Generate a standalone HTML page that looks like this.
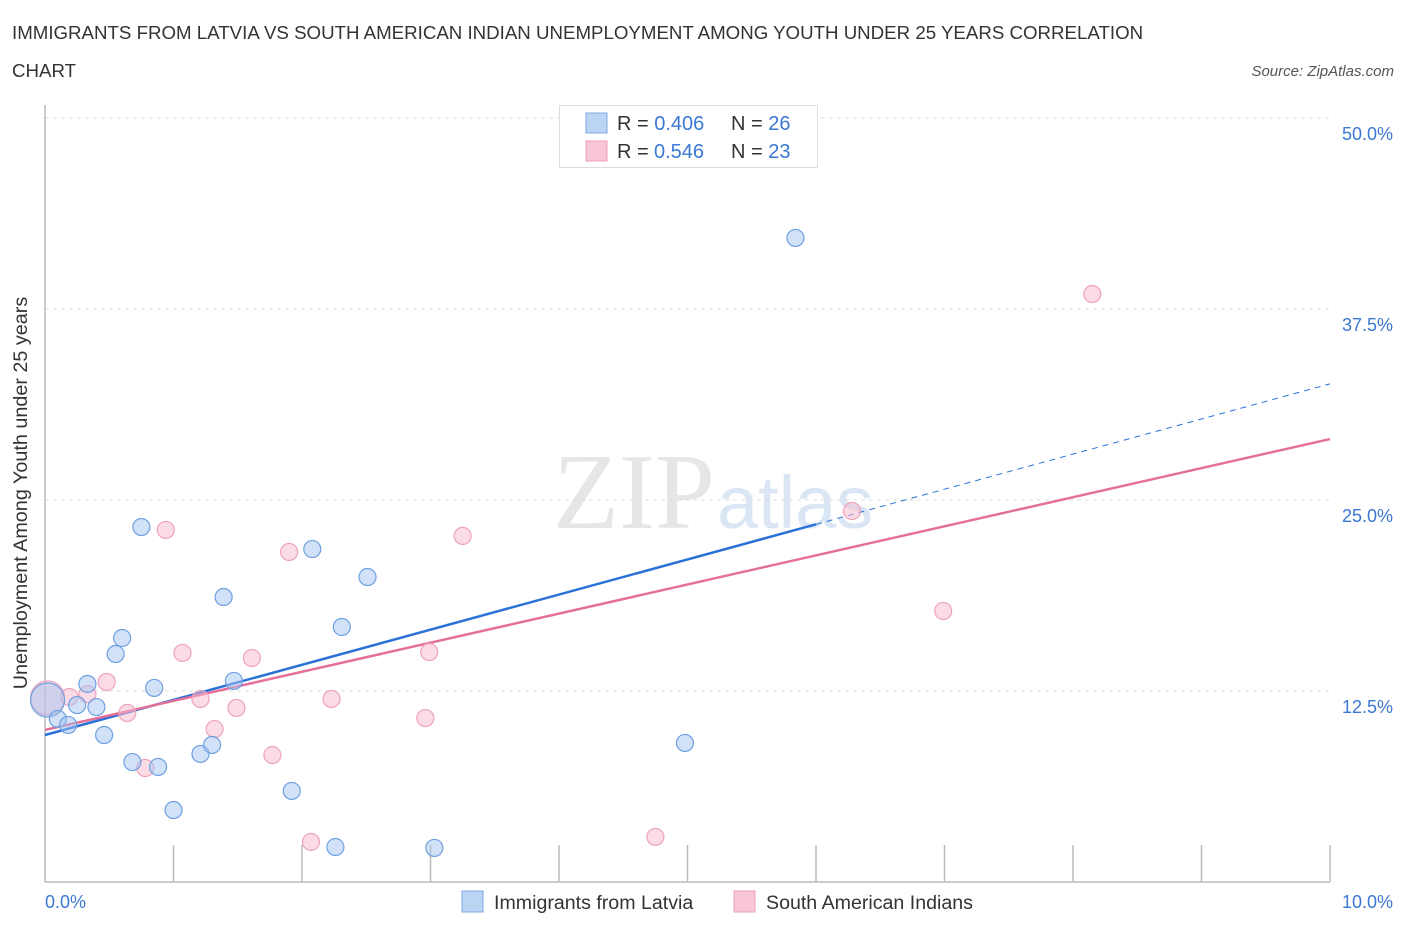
<!DOCTYPE html>
<html><head><meta charset="utf-8"><style>
body{margin:0;background:#fff;font-family:"Liberation Sans",sans-serif}
svg text{font-family:"Liberation Sans",sans-serif}
</style></head><body>
<svg id="chart" width="1406" height="930" viewBox="0 0 1406 930">
<text x="12" y="39" font-size="18.7" fill="#333">IMMIGRANTS FROM LATVIA VS SOUTH AMERICAN INDIAN UNEMPLOYMENT AMONG YOUTH UNDER 25 YEARS CORRELATION</text>
<text x="12" y="77" font-size="18.7" fill="#333">CHART</text>
<text x="1394" y="76" font-size="15" fill="#555" font-style="italic" text-anchor="end">Source: ZipAtlas.com</text>
<text x="715" y="528" font-size="108" fill="#e6e6e6" text-anchor="end" style="font-family:'Liberation Serif',serif">ZIP</text>
<text x="717" y="528" font-size="74" fill="#dbe6f5">atlas</text>
<g id="grid"></g>
<line x1="45" y1="105" x2="45" y2="882" stroke="#bbb" stroke-width="1.5"/>
<line x1="45" y1="882" x2="1330" y2="882" stroke="#bbb" stroke-width="1.5"/>
<g id="ticks"></g>
<text x="27" y="493" font-size="19.8" fill="#333" text-anchor="middle" transform="rotate(-90 27 493)">Unemployment Among Youth under 25 years</text>
<text x="45" y="908" font-size="18" fill="#3a78d4">0.0%</text>
<text x="1393" y="908" font-size="18" fill="#3a78d4" text-anchor="end">10.0%</text>
<g id="lines"></g>
<g id="points"></g>
<g>
<rect x="559.5" y="105.5" width="258" height="62" fill="#fff" stroke="#ddd"/>
<rect x="586" y="113" width="21" height="20" fill="#bcd4f4" stroke="#7ea8e4"/>
<rect x="586" y="141" width="21" height="20" fill="#f9c6d6" stroke="#eca0ba"/>
<text x="617" y="130" font-size="20" fill="#333">R = <tspan fill="#3a78d4">0.406</tspan><tspan x="731">N = </tspan><tspan fill="#3a78d4">26</tspan></text>
<text x="617" y="158" font-size="20" fill="#333">R = <tspan fill="#3a78d4" x="654">0.546</tspan><tspan x="731">N = </tspan><tspan fill="#3a78d4">23</tspan></text>
</g>
<g><rect x="462" y="891" width="21" height="21" fill="#bcd4f4" stroke="#7ea8e4"/><text x="494" y="909" font-size="19.6" fill="#333">Immigrants from Latvia</text></g>
<g><rect x="734" y="891" width="21" height="21" fill="#f9c6d6" stroke="#eca0ba"/><text x="766" y="909" font-size="19.6" fill="#333">South American Indians</text></g>
</svg>
<script>
const yTicks=[12.5,25,37.5,50];
const yTickLabels=["12.5%","25.0%","37.5%","50.0%"];
const xTicks=[1,2,3,4,5,6,7,8,9,10];
const blueX=[0.02,0.10,0.18,0.25,0.33,0.40,0.46,0.55,0.60,0.68,0.75,0.85,0.88,1.00,1.21,1.30,1.39,1.47,1.92,2.08,2.26,2.31,2.51,3.03,4.98,5.84];
const blueY=[11.91,10.67,10.28,11.58,12.96,11.45,9.62,14.92,15.97,7.85,23.23,12.70,7.53,4.71,8.38,8.97,18.65,13.16,5.96,21.79,2.29,16.69,19.96,2.23,9.10,42.15];
const pinkX=[0.02,0.19,0.33,0.48,0.64,0.78,0.94,1.07,1.21,1.32,1.49,1.61,1.77,1.90,2.07,2.23,2.96,2.99,3.25,4.75,6.28,6.99,8.15];
const pinkY=[12.04,12.11,12.30,13.09,11.06,7.46,23.04,14.99,11.98,10.01,11.39,14.66,8.31,21.60,2.62,11.98,10.73,15.05,22.65,2.95,24.28,17.74,38.48];
const blueTrend=[9.62,32.6]; const blueSolidEnd=6.0;
const pinkTrend=[9.95,28.99];
const NS="http://www.w3.org/2000/svg";
const sx=v=>45+v*128.5, sy=v=>882-v*15.28;
function mk(tag,attrs,parent){const e=document.createElementNS(NS,tag);for(const k in attrs)e.setAttribute(k,attrs[k]);document.getElementById(parent).appendChild(e);return e;}
yTicks.forEach((t,i)=>{
 const g=mk('line',{x1:45,x2:1330,y1:sy(t),y2:sy(t),stroke:'#ddd','stroke-dasharray':'4,4'},'grid');
 
 
 const l=mk('text',{x:1393,y:sy(t)+22,'font-size':18,fill:'#3a78d4','text-anchor':'end'},'grid');
 l.textContent=yTickLabels[i];
 
 
});
xTicks.forEach(t=>{
 const e=mk('line',{x1:sx(t),x2:sx(t),y1:845,y2:882,stroke:'#bbb','stroke-width':1.5},'ticks');
 
 
});
const f=(tr,x)=>tr[0]+(tr[1]-tr[0])*x/10;
let e=mk('line',{x1:sx(0),y1:sy(f(blueTrend,0)),x2:sx(blueSolidEnd),y2:sy(f(blueTrend,blueSolidEnd)),stroke:'#2a72d8','stroke-width':2.5},'lines');


e=mk('line',{x1:sx(blueSolidEnd),y1:sy(f(blueTrend,blueSolidEnd)),x2:sx(10),y2:sy(f(blueTrend,10)),stroke:'#2a72d8','stroke-width':1,'stroke-dasharray':'6,5'},'lines');


e=mk('line',{x1:sx(0),y1:sy(f(pinkTrend,0)),x2:sx(10),y2:sy(f(pinkTrend,10)),stroke:'#e4709a','stroke-width':2.5},'lines');


function pts(X,Y,fill,stroke,name){X.forEach((x,i)=>{
 const c=mk('circle',{cx:sx(x),cy:sy(Y[i]),r:i===0?17:8.5,fill:fill,stroke:stroke,'stroke-width':1.2},'points');
 
 
});}
pts(pinkX,pinkY,'rgba(248,186,206,0.5)','#eea2bc','south-american-indian-point');
pts(blueX,blueY,'rgba(164,196,240,0.5)','#6ea0e2','latvia-point');
</script>
</body></html>
